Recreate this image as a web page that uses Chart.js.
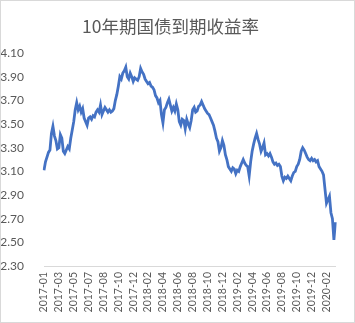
<!DOCTYPE html>
<html>
<head>
<meta charset="utf-8">
<script src="https://cdn.jsdelivr.net/npm/chart.js@4"></script>
<style>
  html, body { margin: 0; padding: 0; background: #fff; }
  #wrap { position: relative; width: 353px; height: 321px; border: 1px solid #d9d9d9; }
</style>
</head>
<body>
<div id="wrap"><canvas id="myChart"></canvas></div>
<script>
// tick labels on the x axis, one every 10 points
const tickLabels = ['2017-01', '2017-03', '2017-05', '2017-07', '2017-08', '2017-10', '2017-12',
  '2018-02', '2018-04', '2018-06', '2018-08', '2018-10', '2018-12', '2019-02', '2019-04',
  '2019-06', '2019-08', '2019-10', '2019-12', '2020-02'];

// yield
const yields = [
  3.11, 3.18, 3.22, 3.26, 3.28, 3.42, 3.48, 3.40, 3.36, 3.29,
  3.30, 3.41, 3.38, 3.27, 3.25, 3.28, 3.31, 3.29, 3.38,
  3.45, 3.52, 3.62, 3.68, 3.62, 3.65, 3.60, 3.63, 3.55, 3.52,
  3.49, 3.55, 3.56, 3.54, 3.57, 3.56, 3.60, 3.62, 3.60, 3.66,
  3.58, 3.61, 3.64, 3.62, 3.60, 3.62, 3.60, 3.61, 3.63,
  3.70, 3.75, 3.82, 3.90, 3.88, 3.93, 3.95, 3.98, 3.90, 3.88,
  3.93, 3.90, 3.86, 3.89, 3.88, 3.87, 3.90, 3.97, 3.94,
  3.92, 3.88, 3.86, 3.84, 3.85, 3.82, 3.81, 3.79, 3.74, 3.72,
  3.68, 3.70, 3.58, 3.51, 3.62, 3.64, 3.68, 3.71, 3.66, 3.61,
  3.64, 3.61, 3.67, 3.62, 3.52, 3.49, 3.54, 3.53, 3.46,
  3.54, 3.50, 3.47, 3.53, 3.62, 3.64, 3.60, 3.61, 3.65, 3.66,
  3.69, 3.66, 3.63, 3.61, 3.59, 3.58, 3.55, 3.52, 3.49, 3.44,
  3.38, 3.35, 3.27, 3.30, 3.36, 3.32, 3.24, 3.20, 3.14,
  3.12, 3.10, 3.13, 3.12, 3.08, 3.11, 3.10, 3.14, 3.17, 3.20,
  3.17, 3.15, 3.14, 3.06, 3.18, 3.27, 3.33, 3.38, 3.42,
  3.37, 3.33, 3.27, 3.30, 3.34, 3.24, 3.25, 3.23, 3.25, 3.22,
  3.18, 3.16, 3.17, 3.15, 3.16, 3.14, 3.06, 3.02, 3.05, 3.04,
  3.06, 3.04, 3.02, 3.06, 3.09, 3.10, 3.14, 3.16, 3.20,
  3.27, 3.30, 3.28, 3.25, 3.22, 3.20, 3.19, 3.21, 3.19, 3.20,
  3.18, 3.19, 3.14, 3.12, 3.10, 3.07, 2.95, 2.83, 2.86, 2.89,
  2.75, 2.70, 2.52, 2.67
];

const labels = yields.map((v, i) => (i % 10 === 0 ? tickLabels[i / 10] || '' : ''));

const ctx = document.getElementById('myChart');

new Chart(ctx, {
  type: 'line',
  data: {
    labels: labels,
    datasets: [{
      label: '10年期国债到期收益率',
      data: yields,
      borderColor: '#4472C4',
      borderWidth: 2.8,
      pointRadius: 0,
      tension: 0,
      fill: false
    }]
  },
  options: {
    responsive: true,
    maintainAspectRatio: false,
    animation: false,
    layout: { padding: { left: 0, right: 14, top: 0, bottom: 0 } },
    plugins: {
      legend: { display: false },
      tooltip: { enabled: false },
      title: {
        display: true,
        text: '10年期国债到期收益率',
        color: '#595959',
        font: { family: "'Noto Sans CJK SC', sans-serif", size: 17.5, weight: 'normal' },
        padding: { top: 15, bottom: 16 }
      }
    },
    scales: {
      x: {
        grid: { display: false, drawTicks: false },
        border: { display: true, color: '#d9d9d9', width: 1 },
        ticks: {
          autoSkip: false,
          maxRotation: 90,
          minRotation: 90,
          padding: 6,
          color: '#595959',
          font: { family: 'Lato, sans-serif', size: 10.5 }
        },
        afterFit: scale => { scale.height = 56; }
      },
      y: {
        min: 2.3,
        max: 4.1,
        grid: { display: false },
        border: { display: false },
        ticks: {
          stepSize: 0.2,
          padding: 12,
          color: '#595959',
          font: { family: 'Lato, sans-serif', size: 12 },
          callback: v => v.toFixed(2)
        },
        afterFit: scale => { scale.width = 43; }
      }
    }
  }
});
</script>
</body>
</html>
